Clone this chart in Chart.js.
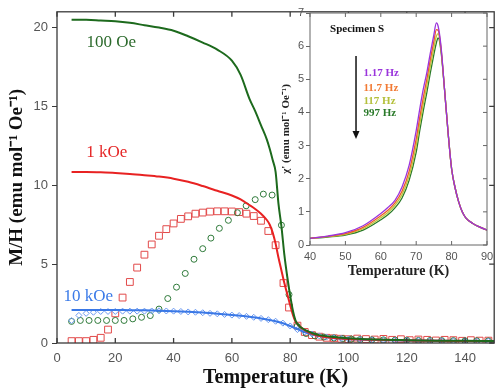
<!DOCTYPE html>
<html>
<head>
<meta charset="utf-8">
<script src="https://cdn.jsdelivr.net/npm/chart.js@4.4.0/dist/chart.umd.min.js"></script>
<style>
    html, body { margin: 0; padding: 0; background: #fff; }
    #wrap { position: relative; width: 500px; height: 391px; }
    #mainChart { position: absolute; left: 0; top: 0; }
    #insetChart { position: absolute; left: 270px; top: 0; }
</style>
</head>
<body>
<div id="wrap">
    <canvas id="mainChart" width="500" height="391"></canvas>
    <canvas id="insetChart" width="230" height="285"></canvas>
</div>
<script>
// Main panel: M/H vs T, field-cooled lines
const lineT    = [5, 10, 15, 20, 25, 30, 35, 40, 45, 50, 55, 60, 63, 66, 68, 70, 72, 73, 74, 75, 76, 77, 78, 79, 80, 81, 82, 84, 86, 88, 90, 95, 100, 110, 120, 130, 140, 150];
const fc100Oe  = [20.5, 20.5, 20.45, 20.4, 20.3, 20.15, 20.0, 19.8, 19.45, 19.05, 18.6, 17.9, 17.0, 15.5, 14.7, 13.8, 12.9, 12.3, 11.6, 10.85, 8.8, 7.4, 5.6, 4.2, 3.0, 2.0, 1.35, 0.95, 0.75, 0.6, 0.5, 0.38, 0.3, 0.22, 0.18, 0.15, 0.14, 0.12];
const fc1kOe   = [10.85, 10.85, 10.82, 10.78, 10.72, 10.64, 10.55, 10.42, 10.22, 9.95, 9.65, 9.35, 9.1, 8.75, 8.5, 8.2, 7.8, 7.5, 7.0, 6.3, 5.4, 4.6, 3.8, 3.1, 2.4, 1.75, 1.3, 0.95, 0.7, 0.55, 0.45, 0.32, 0.25, 0.2, 0.16, 0.14, 0.13, 0.12];
const fc10kOe  = [2.1, 2.1, 2.1, 2.1, 2.08, 2.07, 2.05, 2.02, 1.98, 1.93, 1.86, 1.78, 1.73, 1.66, 1.61, 1.56, 1.49, 1.46, 1.42, 1.38, 1.33, 1.28, 1.22, 1.15, 1.08, 1.0, 0.92, 0.76, 0.63, 0.52, 0.44, 0.32, 0.25, 0.19, 0.16, 0.14, 0.13, 0.12];

// Main panel: zero-field-cooled markers
const zfc1kT   = [5, 7.5, 10, 12.5, 15, 17.5, 20, 22.5, 25, 27.5, 30, 32.5, 35, 37.5, 40, 42.5, 45, 47.5, 50, 52.5, 55, 57.5, 60, 62.5, 65, 67.5, 70, 72.5, 75, 77.7, 79.6, 82.5, 85, 87.5, 90, 92.5, 95, 97.5, 100, 103, 106, 109, 112, 115, 118, 121, 124, 127, 130, 133, 136, 139, 142, 145, 148];
const zfc1kOe  = [0.12, 0.12, 0.12, 0.2, 0.33, 0.85, 1.88, 2.88, 3.87, 4.78, 5.6, 6.25, 6.8, 7.22, 7.58, 7.87, 8.03, 8.2, 8.27, 8.33, 8.35, 8.35, 8.34, 8.3, 8.2, 8.05, 7.75, 7.1, 6.2, 3.8, 2.25, 1.1, 0.7, 0.5, 0.4, 0.33, 0.3, 0.27, 0.24, 0.28, 0.25, 0.22, 0.26, 0.2, 0.24, 0.18, 0.22, 0.2, 0.16, 0.2, 0.18, 0.14, 0.18, 0.15, 0.15];
const zfc100T  = [5, 8, 11, 14, 17, 20, 23, 26, 29, 32, 35, 38, 41, 44, 47, 50, 52.8, 55.7, 58.8, 61.9, 64.9, 68, 70.8, 73.8, 77, 79.6, 82.4, 85.5, 88.5, 91.5, 95, 98, 101, 104, 108, 112, 116, 120, 124, 128, 132, 136, 140, 144, 148];
const zfc100Oe = [1.37, 1.43, 1.43, 1.43, 1.43, 1.43, 1.43, 1.53, 1.63, 1.74, 2.15, 2.82, 3.54, 4.41, 5.31, 5.98, 6.65, 7.27, 7.78, 8.26, 8.7, 9.09, 9.44, 9.38, 7.47, 3.07, 1.06, 0.6, 0.45, 0.38, 0.32, 0.28, 0.25, 0.22, 0.2, 0.2, 0.18, 0.17, 0.16, 0.16, 0.15, 0.15, 0.14, 0.14, 0.13];
const zfc10kT  = [5, 7.5, 10, 12.5, 15, 17.5, 20, 22.5, 25, 27.5, 30, 32.5, 35, 37.5, 40, 42.5, 45, 47.5, 50, 52.5, 55, 57.5, 60, 62.5, 65, 67.5, 70, 72.5, 75, 77.5, 80, 82.5, 85, 87.5, 90, 92.5, 95, 97.5, 100, 104, 108, 112, 116, 120, 124, 128, 132, 136, 140, 144, 148];
const zfc10kOe = [1.42, 1.75, 1.88, 1.95, 2.0, 2.0, 2.0, 2.02, 2.02, 2.02, 2.02, 2.03, 2.04, 2.03, 2.02, 2.0, 1.97, 1.95, 1.92, 1.88, 1.85, 1.81, 1.77, 1.74, 1.69, 1.63, 1.56, 1.48, 1.38, 1.26, 1.08, 0.85, 0.7, 0.57, 0.45, 0.38, 0.33, 0.29, 0.25, 0.22, 0.2, 0.18, 0.17, 0.16, 0.15, 0.14, 0.14, 0.13, 0.13, 0.12, 0.12];
const mainXTicks = [0, 20, 40, 60, 80, 100, 120, 140];
const mainYTicks = [0, 5, 10, 15, 20];

// Inset: chi' vs T at four frequencies
const insetT   = [40, 45, 50, 55, 60, 62, 64, 66, 68, 70, 71, 72, 73, 74, 75, 75.7, 76.2, 77, 78, 79, 80, 81, 82, 83, 84, 86, 88, 90];
const chi1_17  = [0.2, 0.27, 0.37, 0.58, 0.95, 1.13, 1.35, 1.75, 2.4, 3.45, 4.1, 4.7, 5.2, 5.8, 6.35, 6.7, 6.6, 6.0, 4.7, 3.4, 2.3, 1.72, 1.3, 1.0, 0.82, 0.65, 0.54, 0.45];
const chi11_7  = [0.2, 0.26, 0.34, 0.53, 0.88, 1.05, 1.27, 1.62, 2.22, 3.2, 3.85, 4.45, 5.0, 5.6, 6.15, 6.5, 6.48, 5.95, 4.7, 3.4, 2.3, 1.72, 1.3, 1.0, 0.82, 0.65, 0.54, 0.45];
const chi117   = [0.2, 0.25, 0.32, 0.49, 0.82, 0.98, 1.2, 1.52, 2.08, 3.0, 3.65, 4.25, 4.8, 5.4, 5.95, 6.3, 6.38, 5.9, 4.7, 3.4, 2.3, 1.72, 1.3, 1.0, 0.82, 0.65, 0.54, 0.45];
const chi997   = [0.2, 0.24, 0.3, 0.45, 0.76, 0.91, 1.12, 1.42, 1.95, 2.8, 3.45, 4.05, 4.6, 5.2, 5.75, 6.1, 6.25, 5.85, 4.7, 3.4, 2.3, 1.72, 1.3, 1.0, 0.82, 0.65, 0.54, 0.45];
const freqLabels = ['1.17 Hz', '11.7 Hz', '117 Hz', '997 Hz'];

const SERIF = '"Liberation Serif", "Times New Roman", serif';
const SANS = '"Liberation Sans", Arial, sans-serif';

const toPoints = (xs, ys) => xs.map((x, i) => ({ x: x, y: ys[i] }));
const fixedTicks = values => s => { s.ticks = values.map(v => ({ value: v })); };

// box around the plot area plus inward ticks on bottom, top and right
const frameTicks = {
    id: 'frameTicks',
    afterDraw(chart, args, opts) {
        const { ctx, chartArea: a, scales } = chart;
        ctx.save();
        ctx.strokeStyle = opts.color;
        ctx.lineWidth = opts.width;
        ctx.strokeRect(a.left, a.top, a.right - a.left, a.bottom - a.top);
        ctx.beginPath();
        scales.x.ticks.forEach(t => {
            const px = scales.x.getPixelForValue(t.value);
            ctx.moveTo(px, a.bottom); ctx.lineTo(px, a.bottom - opts.len);
            ctx.moveTo(px, a.top); ctx.lineTo(px, a.top + opts.len);
        });
        scales.y.ticks.forEach(t => {
            const py = scales.y.getPixelForValue(t.value);
            ctx.moveTo(a.right, py); ctx.lineTo(a.right - opts.len, py);
        });
        ctx.stroke();
        ctx.restore();
    }
};

// text notes and an arrow placed in data coordinates
const notes = {
    id: 'notes',
    afterDatasetsDraw(chart, args, opts) {
        const { ctx, scales } = chart;
        ctx.save();
        (opts.items || []).forEach(n => {
            ctx.font = n.font;
            ctx.fillStyle = n.color;
            ctx.textAlign = n.align || 'center';
            ctx.textBaseline = 'middle';
            ctx.fillText(n.text, scales.x.getPixelForValue(n.x), scales.y.getPixelForValue(n.y));
        });
        if (opts.arrow) {
            const ar = opts.arrow;
            const x = scales.x.getPixelForValue(ar.x);
            const y1 = scales.y.getPixelForValue(ar.y1);
            const y2 = scales.y.getPixelForValue(ar.y2);
            ctx.strokeStyle = '#111';
            ctx.fillStyle = '#111';
            ctx.lineWidth = 1.5;
            ctx.beginPath();
            ctx.moveTo(x, y1); ctx.lineTo(x, y2 - 6);
            ctx.stroke();
            ctx.beginPath();
            ctx.moveTo(x - 3.5, y2 - 8); ctx.lineTo(x + 3.5, y2 - 8); ctx.lineTo(x, y2);
            ctx.closePath();
            ctx.fill();
        }
        ctx.restore();
    }
};

const whiteArea = {
    id: 'whiteArea',
    beforeDraw(chart) {
        const { ctx, chartArea: a } = chart;
        ctx.save();
        ctx.fillStyle = '#fff';
        ctx.fillRect(a.left, a.top, a.right - a.left, a.bottom - a.top);
        ctx.restore();
    }
};

function lineSet(label, xs, ys, color, width) {
    return {
        label: label, data: toPoints(xs, ys), borderColor: color, borderWidth: width,
        pointRadius: 0, fill: false, cubicInterpolationMode: 'monotone'
    };
}

function markerSet(label, xs, ys, color, style, radius) {
    return {
        label: label, data: toPoints(xs, ys), showLine: false, borderColor: color,
        backgroundColor: 'rgba(0,0,0,0)', pointStyle: style, pointRadius: radius, pointBorderWidth: 1
    };
}

new Chart(document.getElementById('mainChart'), {
    type: 'line',
    data: {
        datasets: [
            lineSet('FC 100 Oe', lineT, fc100Oe, '#1d6a1d', 2),
            lineSet('FC 1 kOe', lineT, fc1kOe, '#e82222', 2),
            lineSet('FC 10 kOe', lineT, fc10kOe, '#3a78e6', 2),
            markerSet('ZFC 10 kOe', zfc10kT, zfc10kOe, '#6a98f0', 'rectRot', 3),
            markerSet('ZFC 100 Oe', zfc100T, zfc100Oe, '#2f7a3a', 'circle', 3),
            markerSet('ZFC 1 kOe', zfc1kT, zfc1kOe, '#e24a4a', 'rect', 4.8)
        ]
    },
    options: {
        responsive: false,
        animation: false,
        layout: { padding: { top: 5, right: 3, left: 0, bottom: 0 } },
        plugins: {
            legend: { display: false },
            tooltip: { enabled: false },
            frameTicks: { color: '#3a3a3a', width: 1.3, len: 5 },
            notes: {
                items: [
                    { text: '100 Oe', x: 18.6, y: 19.07, color: '#2c6a2c', font: '17px ' + SERIF },
                    { text: '1 kOe', x: 17.1, y: 12.1, color: '#e52626', font: '17px ' + SERIF },
                    { text: '10 kOe', x: 10.75, y: 2.92, color: '#3a7ae8', font: '17px ' + SERIF }
                ]
            }
        },
        scales: {
            x: {
                type: 'linear', min: 0, max: 150,
                afterBuildTicks: fixedTicks(mainXTicks),
                afterFit: s => { s.height = 48; },
                ticks: { padding: 8, autoSkip: false, maxRotation: 0, color: '#555', font: { family: SANS, size: 13 } },
                grid: { display: false, drawTicks: false },
                border: { display: false },
                title: { display: true, text: 'Temperature (K)', color: '#111', font: { family: SERIF, size: 20, weight: 'bold' }, padding: { top: 0, bottom: 1 } }
            },
            y: {
                min: 0, max: 21,
                afterBuildTicks: fixedTicks(mainYTicks),
                afterFit: s => { s.width = 57; },
                ticks: { padding: 4, autoSkip: false, color: '#555', font: { family: SANS, size: 13 } },
                grid: { drawOnChartArea: false, drawTicks: true, tickLength: 5, color: '#3a3a3a' },
                border: { display: false },
                title: { display: true, text: 'M/H (emu mol⁻¹ Oe⁻¹)', color: '#111', font: { family: SERIF, size: 19, weight: 'bold' }, padding: { top: 6, bottom: 0 } }
            }
        }
    },
    plugins: [frameTicks, notes]
});

const freqColors = ['#9a34dc', '#ee5a2a', '#bcc83c', '#2a7a2a'];
const labelColors = ['#9a34dc', '#f27a34', '#b4c03c', '#2a7a2a'];

new Chart(document.getElementById('insetChart'), {
    type: 'line',
    data: {
        datasets: [
            lineSet(freqLabels[0], insetT, chi1_17, freqColors[0], 1.3),
            lineSet(freqLabels[1], insetT, chi11_7, freqColors[1], 1.3),
            lineSet(freqLabels[2], insetT, chi117, freqColors[2], 1.3),
            lineSet(freqLabels[3], insetT, chi997, freqColors[3], 1.3)
        ]
    },
    options: {
        responsive: false,
        animation: false,
        layout: { padding: { top: 13, right: 13, left: 0, bottom: 0 } },
        plugins: {
            legend: { display: false },
            tooltip: { enabled: false },
            frameTicks: { color: '#666', width: 1, len: 4 },
            notes: {
                items: [
                    { text: 'Specimen S', x: 53.3, y: 6.5, color: '#111', font: 'bold 11px ' + SERIF },
                    { text: freqLabels[0], x: 55.1, y: 5.17, color: labelColors[0], font: 'bold 11px ' + SERIF, align: 'left' },
                    { text: freqLabels[1], x: 55.1, y: 4.73, color: labelColors[1], font: 'bold 11px ' + SERIF, align: 'left' },
                    { text: freqLabels[2], x: 55.1, y: 4.35, color: labelColors[2], font: 'bold 11px ' + SERIF, align: 'left' },
                    { text: freqLabels[3], x: 55.1, y: 3.98, color: labelColors[3], font: 'bold 11px ' + SERIF, align: 'left' }
                ],
                arrow: { x: 53.0, y1: 5.7, y2: 3.2 }
            }
        },
        scales: {
            x: {
                type: 'linear', min: 40, max: 90,
                afterFit: s => { s.height = 40; },
                ticks: { stepSize: 10, padding: 5, autoSkip: false, maxRotation: 0, color: '#555', font: { family: SANS, size: 11 } },
                grid: { display: false, drawTicks: false },
                border: { display: false },
                title: { display: true, text: 'Temperature (K)', color: '#222', font: { family: SERIF, size: 14, weight: 'bold' }, padding: { top: 0, bottom: 5 } }
            },
            y: {
                min: 0, max: 7,
                afterFit: s => { s.width = 40; },
                ticks: { stepSize: 1, padding: 2, color: '#555', font: { family: SANS, size: 11 } },
                grid: { drawOnChartArea: false, drawTicks: true, tickLength: 4, color: '#666' },
                border: { display: false },
                title: { display: true, text: "χ' (emu mol⁻¹ Oe⁻¹)", color: '#222', font: { family: SERIF, size: 11, weight: 'bold' }, padding: { top: 10, bottom: 0 } }
            }
        }
    },
    plugins: [whiteArea, frameTicks, notes]
});
</script>
</body>
</html>
